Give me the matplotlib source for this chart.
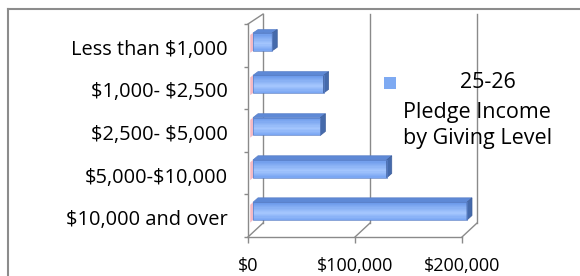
import matplotlib
matplotlib.use("Agg")
import matplotlib.pyplot as plt
import numpy as np
from matplotlib.transforms import Affine2D, IdentityTransform, ScaledTranslation
from matplotlib.patches import Polygon, Rectangle
from matplotlib.lines import Line2D
from matplotlib.colors import to_rgb

# ---------------- data ----------------
categories = ["Less than $1,000", "$1,000- $2,500", "$2,500- $5,000",
              "$5,000-$10,000", "$10,000 and over"]
values = [18000, 66000, 63000, 125000, 200000]
series_name = ["25-26", "Pledge Income", "by Giving Level"]
x_ticks = [0, 100000, 200000]
x_tick_labels = ["$0", "$100,000", "$200,000"]

# ---------------- figure ----------------
W, H, DPI = 580, 276, 100
plt.rcParams['font.family'] = ['Open Sans', 'DejaVu Sans']
plt.rcParams['text.parse_math'] = False
fig = plt.figure(figsize=(W / DPI, H / DPI), dpi=DPI)
fig.patch.set_facecolor("white")

GRID = "#8a8a8a"
FS_CAT = 14.4
FS_TICK = 13
FS_LEG = 15.5

ax = fig.add_axes([248 / W, 1 - 237 / H, 214 / W, 213 / H])
n = len(categories)
ax.set_xlim(0, 200000)
ax.set_ylim(n - 0.5, -0.5)
ax.patch.set_visible(False)
for s in ("top", "right"):
    ax.spines[s].set_visible(False)
for s in ("left", "bottom"):
    ax.spines[s].set_color(GRID)
    ax.spines[s].set_linewidth(1.0)

# category labels (major) and boundary ticks (minor)
ax.set_yticks(range(n))
ax.set_yticklabels(categories, fontsize=FS_CAT)
ax.set_yticks(np.arange(n + 1) - 0.5, minor=True)
ax.tick_params(axis="y", which="major", length=0, pad=14.4)
ax.tick_params(axis="y", which="minor", length=3.2, width=1.0, color=GRID)
ax.set_xticks(x_ticks)
ax.set_xticklabels(x_tick_labels, fontsize=FS_TICK)
ax.tick_params(axis="x", which="major", length=4.3, width=1.0, color=GRID, pad=10)
ax.tick_params(axis="x", which="minor", length=0)
shift = ScaledTranslation(0, -2 / DPI, fig.dpi_scale_trans)
for lab in ax.get_yticklabels():
    lab.set_transform(lab.get_transform() + shift)


def depth(d):
    """Transform for a plane at depth fraction d (0 = front, 1 = back wall)."""
    return ax.transData + Affine2D().scale(1, 1 - 0.019 * d).translate(15 * d, 14.7 * d)


def pt(xy, d):
    return depth(d).transform(xy)


ident = IdentityTransform()

# back wall gridlines
for xt in x_ticks:
    ax.plot([xt, xt], [n - 0.5, -0.5], color=GRID, lw=1.0, transform=depth(1),
            clip_on=False, zorder=1)
    p0, p1 = pt((xt, n - 0.5), 0), pt((xt, n - 0.5), 1)
    fig.add_artist(Line2D([p0[0], p1[0]], [p0[1], p1[1]], color=GRID, lw=1.0,
                          transform=ident))
# top-left diagonal of side wall
p0, p1 = pt((0, -0.5), 0), pt((0, -0.5), 1)
fig.add_artist(Line2D([p0[0], p1[0]], [p0[1], p1[1]], color=GRID, lw=1.0,
                      transform=ident))

# bars
h = 0.21
d_front, d_back = 1 / 3, 2 / 3
c_top = np.array(to_rgb("#6a98ea"))
c_mid = np.array(to_rgb("#a4c6fd"))
c_bot = np.array(to_rgb("#77a4f2"))
nstripe = 14
for i, v in enumerate(values):
    # pink sliver at base
    poly = [pt((0, i - h), 0.15), pt((0, i - h), d_front),
            pt((0, i + h), d_front), pt((0, i + h), 0.15)]
    ax.add_artist(Polygon(poly, closed=True, facecolor="#f4b9c3", edgecolor="none",
                          transform=ident, zorder=3, clip_on=False))
    # front face gradient
    for k in range(nstripe):
        t = (k + 0.5) / nstripe
        if t < 0.6:
            col = c_top + (c_mid - c_top) * (t / 0.6)
        else:
            col = c_mid + (c_bot - c_mid) * ((t - 0.6) / 0.4)
        y0 = i - h + 2 * h * k / nstripe
        ax.barh(y0, v, height=2 * h / nstripe + 0.002, align="edge", color=col,
                edgecolor="none", transform=depth(d_front), zorder=4, clip_on=False)
    ax.barh(i, v, height=2 * h, facecolor="none", edgecolor="#5a80c8", lw=0.5,
            transform=depth(d_front), zorder=5, clip_on=False)
    # top face
    top = [pt((0, i - h), d_front), pt((v, i - h), d_front),
           pt((v, i - h), d_back), pt((0, i - h), d_back)]
    ax.add_artist(Polygon(top, closed=True, facecolor="#5e89d6", edgecolor="#5a80c8",
                          lw=0.5, transform=ident, zorder=4, clip_on=False))
    # side face
    side = [pt((v, i - h), d_front), pt((v, i - h), d_back),
            pt((v, i + h), d_back), pt((v, i + h), d_front)]
    ax.add_artist(Polygon(side, closed=True, facecolor="#456aab", edgecolor="#3f5f9c",
                          lw=0.5, transform=ident, zorder=4, clip_on=False))

# legend
fig.add_artist(Rectangle(((390 - 6) / W, 1 - (83 + 6) / H), 12 / W, 12 / H,
                         facecolor="#7eaaf2", edgecolor="none",
                         transform=fig.transFigure))
fig.text(488 / W, 1 - 88 / H, series_name[0], ha="center", va="baseline", fontsize=FS_LEG)
fig.text(403 / W, 1 - 118 / H, series_name[1], ha="left", va="baseline", fontsize=FS_LEG)
fig.text(403 / W, 1 - 144 / H, series_name[2], ha="left", va="baseline", fontsize=FS_LEG)

# outer chart frame (cropped)
fig.add_artist(Line2D([8 / W, 1], [1 - 9 / H, 1 - 9 / H], color="#8c8c8c", lw=1.5,
                      transform=fig.transFigure))
fig.add_artist(Line2D([8 / W, 8 / W], [0, 1 - 9 / H], color="#8c8c8c", lw=1.5,
                      transform=fig.transFigure))

fig.savefig("out.png", dpi=DPI, facecolor="white")
